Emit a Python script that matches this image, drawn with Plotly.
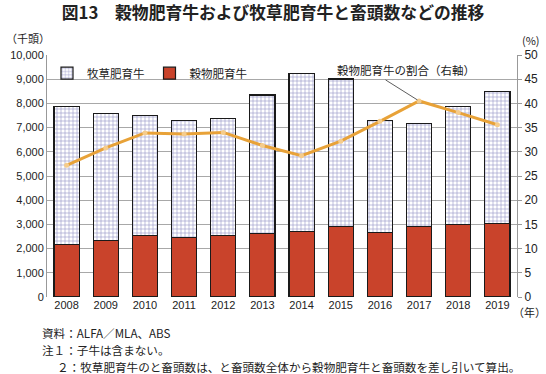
import plotly.graph_objects as go

years = ["2008", "2009", "2010", "2011", "2012", "2013", "2014", "2015", "2016", "2017", "2018", "2019"]
total = [7860, 7570, 7490, 7290, 7360, 8350, 9220, 9010, 7280, 7160, 7860, 8480]
grain = [2170, 2320, 2530, 2450, 2530, 2610, 2700, 2900, 2660, 2900, 3000, 3040]
grass = [t - g for t, g in zip(total, grain)]
ratio = [27.2, 30.8, 33.9, 33.7, 34.0, 31.3, 29.2, 32.2, 36.3, 40.5, 38.1, 35.6]

left_ticks = list(range(0, 10001, 1000))
right_ticks = list(range(0, 51, 5))
notes = ["資料：ALFA／MLA、ABS", "注１：子牛は含まない。",
         "２：牧草肥育牛のと畜頭数は、と畜頭数全体から穀物肥育牛と畜頭数を差し引いて算出。"]

FONT = "Arial, 'Liberation Sans', 'Noto Sans CJK JP', sans-serif"
JP = "'Noto Sans CJK JP', sans-serif"

fig = go.Figure()
fig.add_trace(go.Bar(
    x=years, y=grain, name="穀物肥育牛", legendrank=2,
    marker=dict(color="#C9432B", line=dict(color="#1a1a1a", width=1.2)),
))
fig.add_trace(go.Bar(
    x=years, y=grass, name="牧草肥育牛", legendrank=1,
    marker=dict(color="white", line=dict(color="#1a1a1a", width=1.2),
                pattern=dict(shape="+", fgcolor="#3a3a96", bgcolor="white", size=4, solidity=0.3)),
))
fig.add_trace(go.Scatter(
    x=years, y=ratio, yaxis="y2", mode="lines+markers", showlegend=False,
    line=dict(color="#E8A238", width=3),
    marker=dict(size=5, color="#F5CC8C", line=dict(width=0)),
))

fig.update_layout(
    width=546, height=374,
    margin=dict(l=47, r=29, t=55, b=77, autoexpand=False),
    paper_bgcolor="white", plot_bgcolor="white",
    barmode="stack", bargap=0.36,
    font=dict(family=FONT, size=11, color="#222222"),
    title=dict(text="<b>図13　穀物肥育牛および牧草肥育牛と畜頭数などの推移</b>",
               x=0.5, xanchor="center", y=0.965, yanchor="middle", automargin=False,
               font=dict(family=JP, size=16.8, color="#222222")),
    legend=dict(orientation="h", x=0.0, y=0.985, xanchor="left", yanchor="top",
                traceorder="normal", itemwidth=30,
                bgcolor="rgba(0,0,0,0)", font=dict(family=JP, size=11.5)),
    xaxis=dict(type="category", categoryorder="array", categoryarray=years, automargin=False,
               range=[-0.5, 11.5], showline=False, ticks="", tickfont=dict(size=11)),
    yaxis=dict(range=[0, 10000], tickvals=left_ticks, tickformat=",", automargin=False,
               showgrid=True, gridcolor="#a8a8a8", gridwidth=1,
               showline=True, linecolor="#999999", linewidth=1, zeroline=False,
               ticks="", tickfont=dict(size=11)),
    yaxis2=dict(range=[0, 50], tickvals=right_ticks, overlaying="y", side="right", automargin=False,
                showgrid=False, showline=True, linecolor="#999999", linewidth=1,
                zeroline=False, ticks="outside", ticklen=4, tickcolor="#999999",
                tickfont=dict(size=12)),
)

ann = [
    dict(text="（千頭）", x=0.0, y=1.0, xref="paper", yref="paper", xanchor="left", yanchor="middle",
         xshift=-43, yshift=17, showarrow=False, font=dict(family=JP, size=11)),
    dict(text="(%)", x=1.0, y=1.0, xref="paper", yref="paper", xanchor="center", yanchor="middle",
         xshift=14, yshift=15, showarrow=False, font=dict(family=JP, size=11)),
    dict(text="（年）", x=1.0, y=0.0, xref="paper", yref="paper", xanchor="center", yanchor="middle",
         xshift=12, yshift=-15, showarrow=False, font=dict(family=JP, size=11)),
    dict(text="穀物肥育牛の割合（右軸）", x=8.67, y=47.0, xref="x", yref="y2",
         xanchor="center", yanchor="middle", showarrow=False,
         font=dict(family=JP, size=11.5)),
    dict(text="", x=9, y=ratio[9], xref="x", yref="y2", showarrow=True,
         ax=-35, ay=-22, arrowhead=0, arrowwidth=0.8, arrowcolor="#333333", standoff=2),
]
xs = [-7, -7, 8]
for i, t in enumerate(notes):
    ann.append(dict(text=t, x=0, y=0, xref="paper", yref="paper", xanchor="left", yanchor="middle",
                    xshift=xs[i], yshift=-(36 + 17 * i), showarrow=False,
                    font=dict(family=JP, size=11.6)))
fig.update_layout(annotations=ann)

fig.write_html("out.html", config={"displayModeBar": False},
               post_script="document.body.style.margin='0';")
